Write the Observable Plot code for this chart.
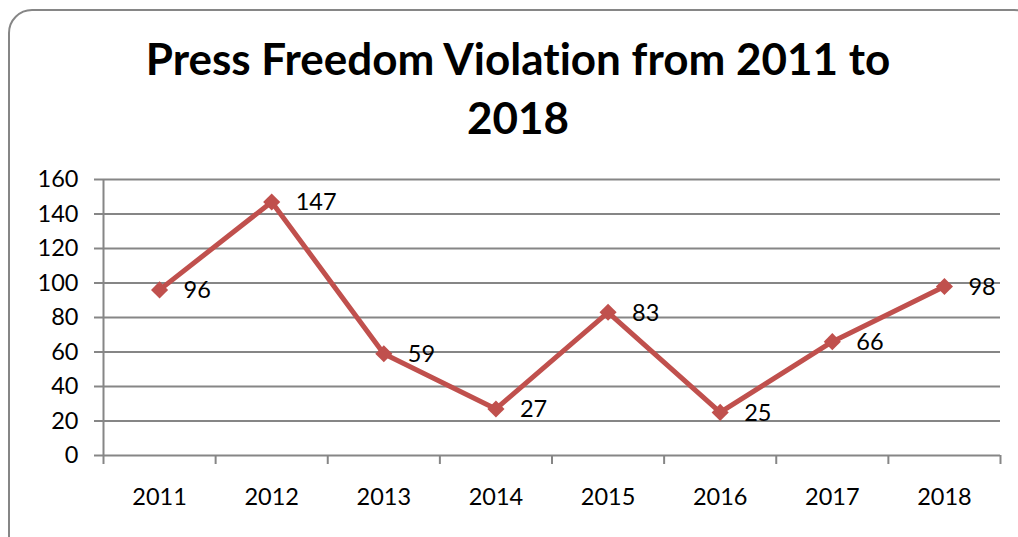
<!DOCTYPE html>
<html>
<head>
<meta charset="utf-8">
<script src="https://cdn.jsdelivr.net/npm/d3@7"></script>
<script src="https://cdn.jsdelivr.net/npm/@observablehq/plot@0.6"></script>
<style>
  body { margin: 0; background: #fff; font-family: Lato, "Open Sans", sans-serif; font-variant-ligatures: none; }
  #wrap { position: relative; width: 1018px; height: 537px; overflow: hidden; }
  #frame { position: absolute; left: 8px; top: 9px; width: 1030px; height: 560px;
           border: 2px solid #868686; border-radius: 24px; box-sizing: border-box; }
  #title { position: absolute; left: 0; width: 1036px; top: 29px; text-align: center;
           font-weight: bold; font-size: 44px; line-height: 59px; color: #000; }
  #chart { position: absolute; left: 0; top: 160px; }
  #chart svg text { font-variant-ligatures: none; }
</style>
</head>
<body>
<div id="wrap">
  <div id="frame"></div>
  <div id="title">Press Freedom Violation from 2011 to<br>2018</div>
  <div id="chart"></div>
</div>
<script>
const years = [2011, 2012, 2013, 2014, 2015, 2016, 2017, 2018];
const violations = [96, 147, 59, 27, 83, 25, 66, 98];
const yTicks = [0, 20, 40, 60, 80, 100, 120, 140, 160];

const data = years.map((year, i) => ({year, value: violations[i]}));
const boundaries = [...years.map(y => y - 0.5), years[years.length - 1] + 0.5];

const gray = "#868686";
const red = "#C0504D";

const chart = Plot.plot({
  width: 1018,
  height: 355,
  marginLeft: 103,
  marginRight: 18,
  marginTop: 19,
  marginBottom: 60,
  style: {fontFamily: "Lato, 'Open Sans', sans-serif", fontSize: "23.5px", color: "#000", background: "transparent"},
  x: {domain: [boundaries[0], boundaries[boundaries.length - 1]]},
  y: {domain: [0, 160]},
  marks: [
    Plot.gridY(yTicks, {stroke: gray, strokeOpacity: 1, strokeWidth: 2}),
    Plot.ruleX([boundaries[0]], {y1: 0, y2: 160, stroke: gray, strokeWidth: 2}),
    Plot.axisY({ticks: yTicks, tickSize: 9, tickPadding: 16, stroke: gray, strokeWidth: 2, label: null, fill: "#000"}),
    Plot.axisX({ticks: boundaries, tickSize: 9, tickFormat: () => "", stroke: gray, strokeWidth: 2, label: null}),
    Plot.axisX({ticks: years, tickSize: 0, tickPadding: 33, tickFormat: d => String(d), label: null, fill: "#000"}),
    Plot.line(data, {x: "year", y: "value", stroke: red, strokeWidth: 5}),
    Plot.dot(data, {x: "year", y: "value", symbol: "diamond2", r: 7.7, fill: red, stroke: null}),
    Plot.text(data, {x: "year", y: "value", text: d => String(d.value), textAnchor: "start", dx: 24, dy: 1, fill: "#000", fontSize: 23.5})
  ]
});
document.getElementById("chart").appendChild(chart);
</script>
</body>
</html>
